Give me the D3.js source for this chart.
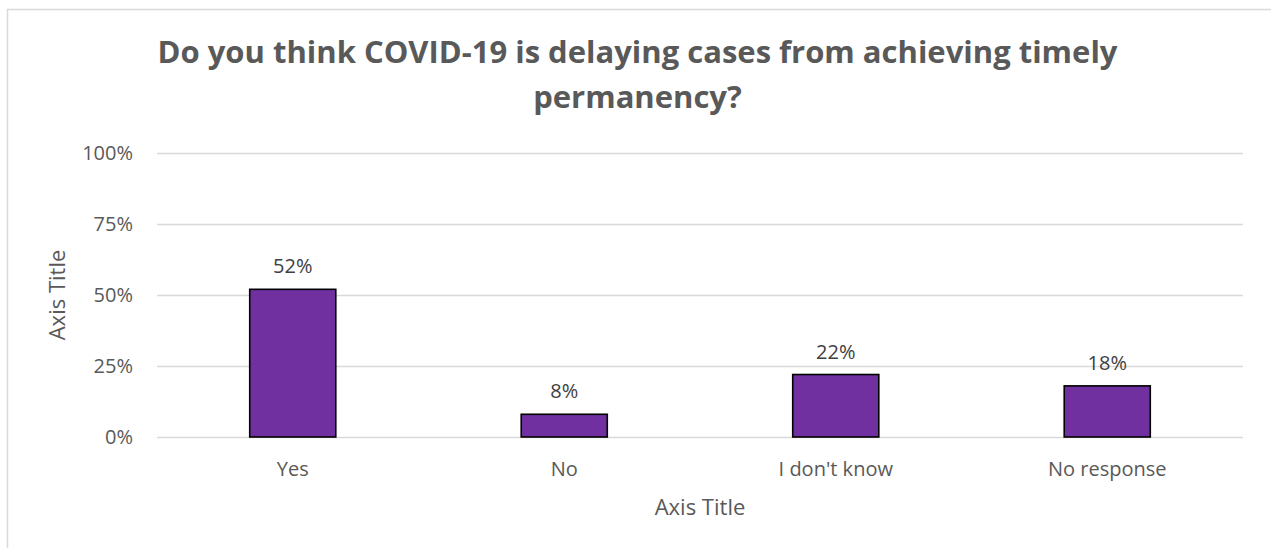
<!DOCTYPE html>
<html>
<head>
<meta charset="utf-8">
<script src="https://cdn.jsdelivr.net/npm/d3@7"></script>
<style>
  html, body { margin: 0; padding: 0; background: #fff; }
  svg { display: block; }
  text { font-family: "Open Sans", "Noto Sans", sans-serif; }
</style>
</head>
<body>
<svg id="chart" width="1271" height="548"></svg>
<script>
// Survey responses
const categories = ["Yes", "No", "I don't know", "No response"];
const shares = [0.52, 0.08, 0.22, 0.18];
const yTicks = [0, 0.25, 0.5, 0.75, 1];
const titleLines = ["Do you think COVID-19 is delaying cases from achieving timely", "permanency?"];
const xAxisTitle = "Axis Title";
const yAxisTitle = "Axis Title";

const W = 1271, H = 548;
const plot = { left: 157, right: 1243, top: 153, bottom: 437 };

const svg = d3.select("#chart");

// chart area frame
svg.append("rect")
  .attr("x", 7.5).attr("y", 9.5)
  .attr("width", W + 20).attr("height", H + 20)
  .attr("fill", "#fff")
  .attr("stroke", "#d9d9d9")
  .attr("stroke-width", 1.5);

const x = d3.scaleBand()
  .domain(categories)
  .range([plot.left, plot.right])
  .paddingInner(0.683)
  .paddingOuter(0.3415);

const y = d3.scaleLinear()
  .domain([0, 1])
  .range([plot.bottom, plot.top]);

// gridlines + percent tick labels
const yAxis = d3.axisLeft(y)
  .tickValues(yTicks)
  .tickFormat(d3.format(".0%"))
  .tickSize(-(plot.right - plot.left))
  .tickPadding(24);

const gy = svg.append("g")
  .attr("transform", `translate(${plot.left},0)`)
  .call(yAxis);
gy.select(".domain").remove();
gy.selectAll(".tick line").attr("stroke", "#d9d9d9").attr("stroke-width", 1.3);
gy.selectAll(".tick text")
  .attr("fill", "#595959")
  .style("font-size", "20px");

// category axis labels
const xAxis = d3.axisBottom(x).tickSize(0).tickPadding(25);
const gx = svg.append("g")
  .attr("transform", `translate(0,${plot.bottom})`)
  .call(xAxis);
gx.select(".domain").remove();
gx.selectAll(".tick text")
  .attr("fill", "#595959")
  .style("font-size", "20px");

// bars
svg.append("g").selectAll("rect")
  .data(categories)
  .join("rect")
  .attr("x", d => x(d))
  .attr("y", (d, i) => y(shares[i]))
  .attr("width", x.bandwidth())
  .attr("height", (d, i) => y(0) - y(shares[i]))
  .attr("fill", "#7030a0")
  .attr("stroke", "#000")
  .attr("stroke-width", 1.6);

// value labels
svg.append("g").selectAll("text")
  .data(categories)
  .join("text")
  .attr("x", d => x(d) + x.bandwidth() / 2)
  .attr("y", (d, i) => y(shares[i]) - 16)
  .attr("text-anchor", "middle")
  .attr("fill", "#404040")
  .style("font-size", "20px")
  .text((d, i) => d3.format(".0%")(shares[i]));

// title
svg.append("text")
  .attr("x", 637.5)
  .attr("text-anchor", "middle")
  .attr("fill", "#595959")
  .style("font-size", "31px")
  .style("font-weight", "bold")
  .selectAll("tspan")
  .data(titleLines)
  .join("tspan")
  .attr("x", 637.5)
  .attr("y", (d, i) => 63 + i * 45)
  .text(d => d);

// axis titles
svg.append("text")
  .attr("x", (plot.left + plot.right) / 2)
  .attr("y", 515)
  .attr("text-anchor", "middle")
  .attr("fill", "#595959")
  .style("font-size", "22px")
  .text(xAxisTitle);

svg.append("text")
  .attr("transform", `translate(65,${(plot.top + plot.bottom) / 2}) rotate(-90)`)
  .attr("text-anchor", "middle")
  .attr("fill", "#595959")
  .style("font-size", "22px")
  .text(yAxisTitle);
</script>
</body>
</html>
